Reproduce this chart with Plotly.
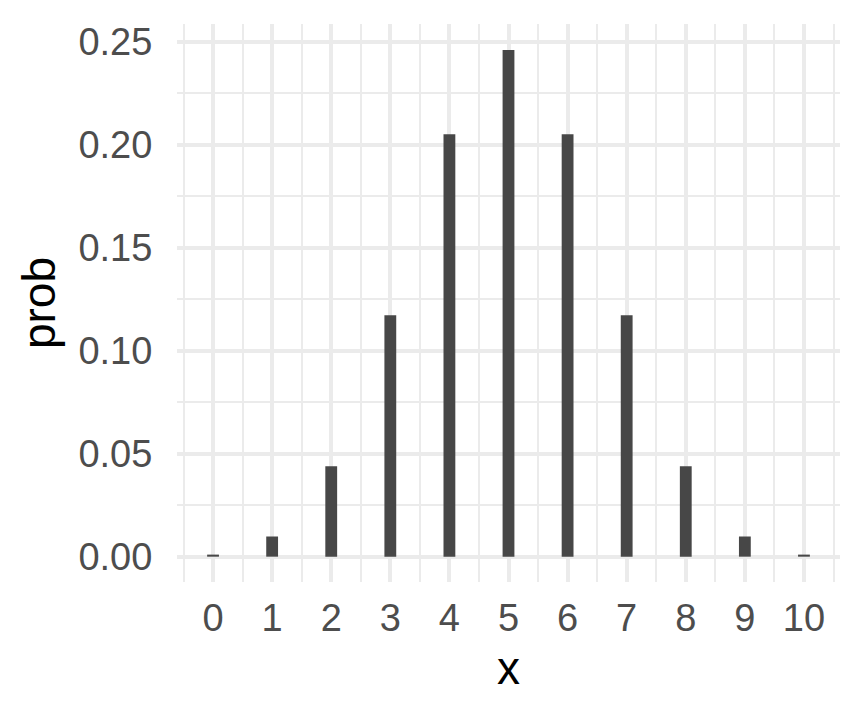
import plotly.graph_objects as go

x_vals = [0, 1, 2, 3, 4, 5, 6, 7, 8, 9, 10]
prob = [0.001, 0.0098, 0.0439, 0.1172, 0.2051, 0.2461, 0.2051, 0.1172, 0.0439, 0.0098, 0.001]
y_ticks = [0.00, 0.05, 0.10, 0.15, 0.20, 0.25]
y_tick_labels = ["0.00", "0.05", "0.10", "0.15", "0.20", "0.25"]

fig = go.Figure()
fig.add_trace(go.Bar(x=x_vals, y=prob, width=0.2, marker=dict(color="#474747", line=dict(width=0))))

font_family = "Liberation Sans, Arial, Helvetica, sans-serif"
grid = "#EBEBEB"

# page body has an 8px default margin, so the figure is offset by (8, 8)
fig.update_layout(
    width=864, height=720,
    margin=dict(l=169, r=32, t=16, b=146),
    plot_bgcolor="white", paper_bgcolor="white",
    showlegend=False,
    font=dict(family=font_family, color="#4D4D4D", size=38),
    xaxis=dict(
        range=[-0.61, 10.61], tickvals=x_vals, ticktext=[str(v) for v in x_vals],
        showgrid=True, gridcolor=grid, gridwidth=4, zeroline=False, showline=False,
        ticks="outside", ticklen=2, tickcolor="rgba(0,0,0,0)",
        tickfont=dict(size=38, color="#4D4D4D"),
        minor=dict(tickvals=[v - 0.5 for v in x_vals] + [10.5], showgrid=True, gridcolor=grid, gridwidth=2, ticks=""),
        title=dict(text="x", font=dict(size=46, color="black"), standoff=14),
        automargin=False,
        fixedrange=True,
    ),
    yaxis=dict(
        range=[-0.0123, 0.2587], tickvals=y_ticks, ticktext=y_tick_labels,
        showgrid=True, gridcolor=grid, gridwidth=4, zeroline=False, showline=False,
        ticks="outside", ticklen=16, tickcolor="rgba(0,0,0,0)",
        tickfont=dict(size=38, color="#4D4D4D"),
        minor=dict(tickvals=[0.025, 0.075, 0.125, 0.175, 0.225], showgrid=True, gridcolor=grid, gridwidth=2, ticks=""),
        title=dict(text="prob", font=dict(size=46, color="black"), standoff=8),
        automargin=False,
        fixedrange=True,
    ),
)

fig.write_html("out.html", config={"displayModeBar": False})
